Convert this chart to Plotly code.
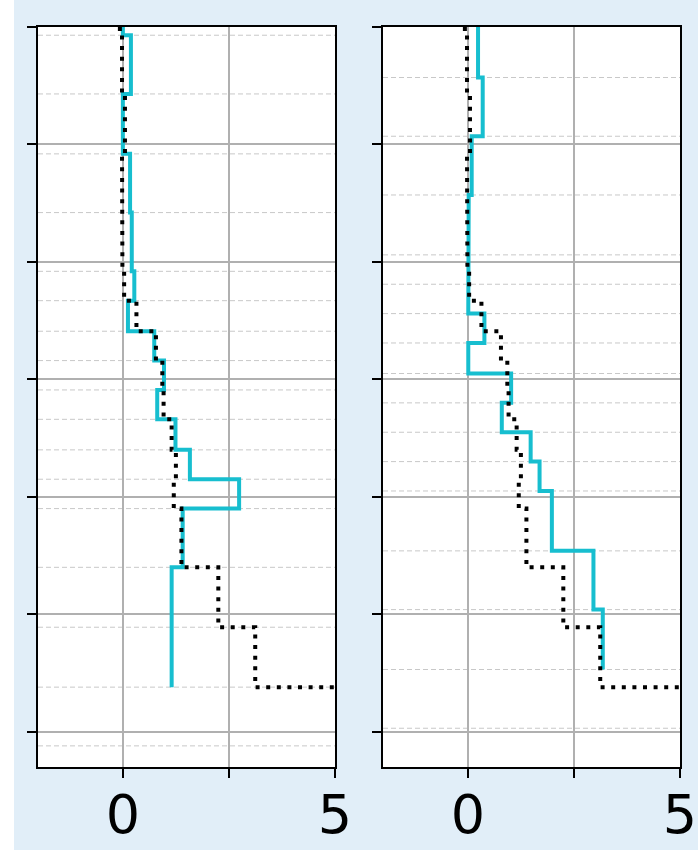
import plotly.graph_objects as go

# ---- data ----
# layer boundaries (depth) used by the left panel and the dotted reference profile
bounds_left = [0.00, 0.07, 0.57, 1.08, 1.58, 2.08, 2.33, 2.59, 2.84, 3.09,
               3.34, 3.60, 3.85, 4.10, 4.60, 5.11, 5.62, 6.12]
# layer boundaries of the right panel
bounds_right = [0.00, 0.43, 0.93, 1.43, 1.94, 2.19, 2.44, 2.69, 2.95, 3.20,
                3.45, 3.70, 3.95, 4.46, 4.96, 5.47, 5.97]

# cyan profile, left panel (one value per layer)
cyan_left = [0.00, 0.19, 0.00, 0.17, 0.21, 0.27, 0.12, 0.74, 0.97, 0.81,
             1.24, 1.58, 2.74, 1.41, 1.15, 1.15]
# cyan profile, right panel
cyan_right = [0.24, 0.35, 0.09, 0.02, 0.01, 0.01, 0.39, 0.01, 1.02, 0.80,
              1.48, 1.69, 1.98, 2.96, 3.18]
# black dotted reference profile (same in both panels, on bounds_left)
black_ref = [-0.07, -0.02, 0.05, -0.02, -0.01, 0.03, 0.32, 0.78, 0.93, 0.96,
             1.15, 1.25, 1.20, 1.38, 2.25, 3.12, 7.0]

x_tickvals = [0, 2.5, 5]
x_ticktext = ["0", "", "5"]
y_tickvals = [0, 1, 2, 3, 4, 5, 6]

W, H = 698, 850
BG = "rgb(225,238,248)"
CYAN = "#17becf"


def steps(vals, bounds):
    xs, ys = [], []
    for i, v in enumerate(vals):
        xs += [v, v]
        ys += [bounds[i], bounds[i + 1]]
    return xs, ys


fig = go.Figure()

panels = [("x", "y", cyan_left, bounds_left), ("x2", "y2", cyan_right, bounds_right)]
for xa, ya, cyan, bnds in panels:
    cx, cy = steps(cyan, bnds)
    fig.add_trace(go.Scatter(x=cx, y=cy, mode="lines", xaxis=xa, yaxis=ya,
                             line=dict(color=CYAN, width=4), showlegend=False,
                             hoverinfo="skip"))
    bx, by = steps(black_ref, bounds_left)
    fig.add_trace(go.Scatter(x=bx, y=by, mode="lines", xaxis=xa, yaxis=ya,
                             line=dict(color="black", width=4, dash="4px,6.6px"),
                             showlegend=False, hoverinfo="skip"))
    # dashed layer-boundary lines
    for b in bnds[1:]:
        fig.add_shape(type="line", xref=f"{xa} domain", yref=ya,
                      x0=0, x1=1, y0=b, y1=b, layer="below",
                      line=dict(color="#c8c8c8", width=1, dash="5px,3px"))

# white strip at the far left
fig.add_shape(type="rect", xref="paper", yref="paper", x0=0, x1=14 / W, y0=0, y1=1,
              fillcolor="white", line=dict(width=0), layer="below")

y_dom = [(H - 767) / H, (H - 27) / H]
xdoms = [[38 / W, 335 / W], [383 / W, 680 / W]]

common_x = dict(range=[-2, 5], tickmode="array", tickvals=x_tickvals, ticktext=x_ticktext,
                ticks="outside", ticklen=9, tickwidth=2, tickcolor="black",
                tickfont=dict(family="DejaVu Sans", size=54, color="black"),
                ticklabelstandoff=-10, automargin=False,
                showgrid=True, gridcolor="#b0b0b0", gridwidth=1.8, zeroline=False,
                showline=True, linecolor="black", linewidth=2, mirror=True)
common_y = dict(range=[6.3, 0], tickmode="array", tickvals=y_tickvals,
                showticklabels=False, ticks="outside", ticklen=9, tickwidth=2,
                tickcolor="black", showgrid=True, gridcolor="#b0b0b0", gridwidth=1.8,
                zeroline=False, showline=True, linecolor="black", linewidth=2, mirror=True,
                automargin=False)

fig.update_layout(
    width=W, height=H,
    margin=dict(l=0, r=0, t=0, b=0, pad=0),
    paper_bgcolor=BG, plot_bgcolor="white",
    xaxis=dict(domain=xdoms[0], anchor="y", **common_x),
    yaxis=dict(domain=y_dom, anchor="x", **common_y),
    xaxis2=dict(domain=xdoms[1], anchor="y2", **common_x),
    yaxis2=dict(domain=y_dom, anchor="x2", **common_y),
)

fig.write_html("out.html",
               config={"displayModeBar": False},
               post_script="document.body.style.margin='0px';"
                           "document.body.style.overflow='hidden';")
